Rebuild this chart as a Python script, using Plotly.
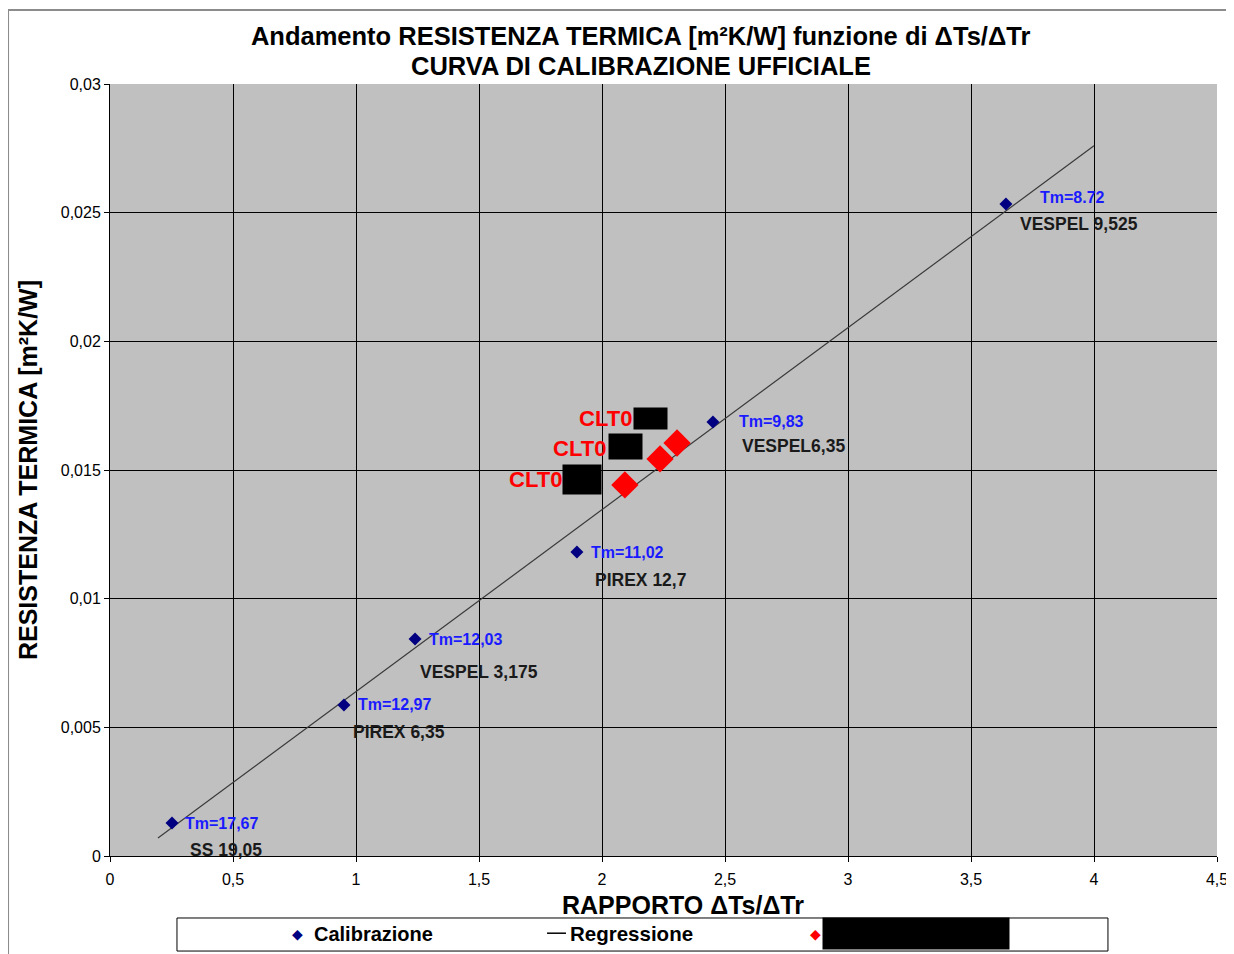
import plotly.graph_objects as go

# ---- data ----
calib_x = [0.252, 0.951, 1.240, 1.898, 2.451, 3.642]
calib_y = [0.00128, 0.00587, 0.00843, 0.01181, 0.01687, 0.02534]
tm_labels = ["Tm=17,67", "Tm=12,97", "Tm=12,03", "Tm=11,02", "Tm=9,83", "Tm=8.72"]
sample_names = ["SS 19,05", "PIREX 6,35", "VESPEL 3,175", "PIREX 12,7", "VESPEL6,35", "VESPEL 9,525"]

test_x = [2.093, 2.236, 2.305]
test_y = [0.01442, 0.01543, 0.01605]
test_labels = ["CLT0", "CLT0", "CLT0"]

reg_slope = 0.00707
reg_intercept = -0.00068
reg_x = [0.195, 4.0]
reg_y = [reg_slope * v + reg_intercept for v in reg_x]

x_ticks = [0, 0.5, 1, 1.5, 2, 2.5, 3, 3.5, 4, 4.5]
y_ticks = [0, 0.005, 0.01, 0.015, 0.02, 0.025, 0.03]

title_line1 = "Andamento RESISTENZA TERMICA [m²K/W] funzione di ΔTs/ΔTr"
title_line2 = "CURVA DI CALIBRAZIONE UFFICIALE"

# ---- styles / offsets (pixels) ----
tm_offsets = [(11, 0), (12, 0), (12, 0), (12, 0), (24, 0), (32, 6)]
name_offsets = [(16, -27), (7, -27), (3, -33), (16, -28), (27, -24), (12, -20)]
clt_text_offsets = [(-61, 5), (-52, 10), (-43, 24)]
clt_box_offsets = [(-43, 5), (-35, 12), (-27, 24)]
clt_box_sizes = [(38, 29), (33, 25), (33, 21)]

FONT = "Liberation Sans, Arial, sans-serif"

fig = go.Figure()
fig.add_trace(go.Scatter(x=reg_x, y=reg_y, mode="lines", name="Regressione",
                         line=dict(color="#3a3a3a", width=1.2), showlegend=False))
fig.add_trace(go.Scatter(x=calib_x, y=calib_y, mode="markers", name="Calibrazione",
                         marker=dict(symbol="diamond", size=10, color="#000080"),
                         showlegend=False))
fig.add_trace(go.Scatter(x=test_x, y=test_y, mode="markers", name="Campioni",
                         marker=dict(symbol="diamond", size=21, color="#FF0000"),
                         showlegend=False))

ann = []
for x, y, t, (dx, dy) in zip(calib_x, calib_y, tm_labels, tm_offsets):
    ann.append(dict(x=x, y=y, text="<b>" + t + "</b>", showarrow=False, xanchor="left",
                    yanchor="middle", xshift=dx, yshift=dy,
                    font=dict(family=FONT, size=16, color="#1a1aff")))
for x, y, t, (dx, dy) in zip(calib_x, calib_y, sample_names, name_offsets):
    ann.append(dict(x=x, y=y, text="<b>" + t + "</b>", showarrow=False, xanchor="left",
                    yanchor="middle", xshift=dx, yshift=dy,
                    font=dict(family=FONT, size=17.5, color="#1a1a1a")))
for x, y, t, (dx, dy), (bx, by), (bw, bh) in zip(test_x, test_y, test_labels,
                                                  clt_text_offsets, clt_box_offsets, clt_box_sizes):
    ann.append(dict(x=x, y=y, text="<b>" + t + "</b>", showarrow=False, xanchor="right",
                    yanchor="middle", xshift=dx, yshift=dy,
                    font=dict(family=FONT, size=22, color="#FF0000")))
    ann.append(dict(x=x, y=y, text=" ", showarrow=False, xanchor="center", yanchor="middle",
                    xshift=bx, yshift=by, bgcolor="black", width=bw, height=bh, borderpad=0,
                    font=dict(size=2)))

# second title line
ann.append(dict(x=0.4797, y=1.0233, xref="paper", yref="paper", text="<b>" + title_line2 + "</b>",
                showarrow=False, xanchor="center", yanchor="middle",
                font=dict(family=FONT, size=25.5, color="black")))

# x axis title
ann.append(dict(x=0.5176, y=-0.0635, xref="paper", yref="paper", text="<b>RAPPORTO ΔTs/ΔTr</b>",
                showarrow=False, xanchor="center", yanchor="middle",
                font=dict(family=FONT, size=25, color="black")))

# manual legend
LY = -0.101
ann.append(dict(x=0.1698, y=LY, xref="paper", yref="paper", text="◆", showarrow=False,
                xanchor="center", yanchor="middle", font=dict(family=FONT, size=14, color="#000080")))
ann.append(dict(x=0.1825, y=LY, xref="paper", yref="paper", text="<b>Calibrazione</b>",
                showarrow=False, xanchor="left", yanchor="middle",
                font=dict(family=FONT, size=20, color="black")))
ann.append(dict(x=0.4137, y=LY, xref="paper", yref="paper", text="<b>Regressione</b>",
                showarrow=False, xanchor="left", yanchor="middle",
                font=dict(family=FONT, size=20.5, color="black")))
ann.append(dict(x=0.6369, y=LY, xref="paper", yref="paper", text="◆", showarrow=False,
                xanchor="center", yanchor="middle", font=dict(family=FONT, size=14, color="#FF0000")))
ann.append(dict(x=0.6432, y=LY, xref="paper", yref="paper", text=" ", showarrow=False,
                xanchor="left", yanchor="middle", bgcolor="black", width=186, height=31,
                borderpad=0, font=dict(size=2)))

shapes = [
    # outer frame
    dict(type="rect", xref="paper", yref="paper", x0=-0.0921, x1=1.0136, y0=-0.14, y1=1.0959,
         line=dict(color="#8c8c8c", width=2), fillcolor="rgba(0,0,0,0)", layer="below"),
    # legend box
    dict(type="rect", xref="paper", yref="paper", x0=0.0605, x1=0.9015, y0=-0.1231, y1=-0.0803,
         line=dict(color="black", width=1), fillcolor="white", layer="below"),
    # legend line for Regressione
    dict(type="line", xref="paper", yref="paper", x0=0.3948, x1=0.4119, y0=LY + 0.001, y1=LY + 0.001,
         line=dict(color="black", width=1.5)),
]

fig.update_layout(
    width=1226, height=946,
    margin=dict(l=102, r=17, t=76, b=98, autoexpand=False),
    paper_bgcolor="white", plot_bgcolor="#C0C0C0",
    separators=",.",
    font=dict(family=FONT, size=16, color="black"),
    title=dict(text="<b>" + title_line1 + "</b>",
               x=0.516, xanchor="center", y=0.9704, yanchor="middle",
               font=dict(family=FONT, size=25.5, color="black")),
    xaxis=dict(range=[0, 4.5], tickvals=x_ticks, showgrid=True, gridcolor="black", gridwidth=1,
               zeroline=False, showline=True, linecolor="black", linewidth=1,
               ticks="outside", ticklen=5, tickcolor="black", automargin=False,
               ticklabelstandoff=4,
               tickfont=dict(family=FONT, size=16, color="black")),
    yaxis=dict(range=[0, 0.03], tickvals=y_ticks, showgrid=True, gridcolor="black", gridwidth=1,
               zeroline=False, showline=True, linecolor="black", linewidth=1,
               ticks="outside", ticklen=5, tickcolor="black", automargin=False,
               tickfont=dict(family=FONT, size=16, color="black"),
               title=dict(text="<b>RESISTENZA TERMICA [m²K/W]</b>", standoff=16,
                          font=dict(family=FONT, size=25, color="black"))),
    annotations=ann, shapes=shapes, showlegend=False,
)

fig.write_html("out.html")
